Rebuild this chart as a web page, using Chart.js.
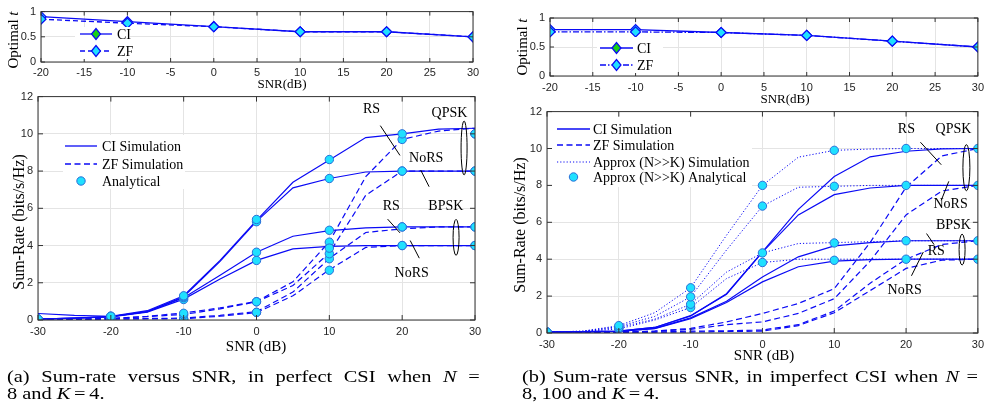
<!DOCTYPE html>
<html lang="en">
<head>
<meta charset="UTF-8" />
<title>Sum-rate versus SNR</title>
<style>
  * { margin: 0; padding: 0; }
  body { width: 989px; height: 419px; background: #fff; position: relative; overflow: hidden; font-family: "Liberation Serif", serif; }
  .box { position: absolute; }
  .cap { position: absolute; font-size: 17px; line-height: 17px; color: #000; transform: scaleX(1.2); transform-origin: 0 0; white-space: nowrap; }
  .cap .l1 { text-align: justify; text-align-last: justify; }
  .cap .eq { margin: 0 3px; }
</style>
</head>
<body>
<div class="box" style="left:0;top:0;width:490px;height:95px"><canvas id="tl"></canvas></div>
<div class="box" style="left:0;top:85px;width:495px;height:270px"><canvas id="bl"></canvas></div>
<div class="box" style="left:500px;top:0;width:489px;height:108px"><canvas id="tr"></canvas></div>
<div class="box" style="left:500px;top:100px;width:489px;height:265px"><canvas id="br"></canvas></div>

<div class="cap" style="left:7px;top:368px;width:394px">
  <div class="l1">(a) Sum-rate versus SNR, in perfect CSI when <i>N</i> =</div>
  <div>8 and <i>K</i><span class="eq">=</span>4.</div>
</div>
<div class="cap" style="left:522px;top:368px;width:380px">
  <div class="l1">(b) Sum-rate versus SNR, in imperfect CSI when <i>N</i> =</div>
  <div>8,&thinsp;100 and <i>K</i><span class="eq">=</span>4.</div>
</div>

<script src="https://cdn.jsdelivr.net/npm/chart.js"></script>
<script>
// ---- data ----
const snrT = [-20, -10, 0, 10, 20, 30];
const snrSim = [-30, -25, -20, -15, -10, -5, 0, 5, 10, 15, 20, 25, 30];
const snrAna = [-30, -20, -10, 0, 10, 20, 30];

// optimal t, (a) perfect CSI
const tCiA = [0.9, 0.8, 0.7, 0.6, 0.6, 0.5];
const tZfA = [0.85, 0.77, 0.7, 0.6, 0.6, 0.5];
// optimal t, (b) imperfect CSI
const tCiB = [0.8, 0.8, 0.75, 0.7, 0.6, 0.5];
const tZfB = [0.76, 0.76, 0.75, 0.7, 0.6, 0.5];

// (a) simulation
const aCiQpskRs = [0.35, 0.25, 0.2, 0.5, 1.3, 3.2, 5.35, 7.4, 8.6, 9.8, 10.0, 10.25, 10.3];
const aCiQpskNoRs = [0.05, 0.1, 0.18, 0.45, 1.25, 3.15, 5.3, 7.1, 7.6, 7.95, 8.0, 8.0, 8.0];
const aCiBpskRs = [0.05, 0.1, 0.18, 0.45, 1.2, 2.4, 3.64, 4.5, 4.8, 4.95, 5.0, 5.0, 5.0];
const aCiBpskNoRs = [0.05, 0.1, 0.17, 0.42, 1.12, 2.2, 3.2, 3.82, 3.95, 4.0, 4.0, 4.0, 4.0];
const aZfQpskRs = [0.02, 0.04, 0.08, 0.2, 0.38, 0.65, 1.0, 2.05, 4.2, 7.7, 9.7, 10.15, 10.3];
const aZfQpskNoRs = [0.02, 0.04, 0.08, 0.18, 0.3, 0.6, 0.98, 1.85, 3.6, 6.7, 8.0, 8.0, 8.0];
const aZfBpskRs = [0.01, 0.02, 0.05, 0.08, 0.1, 0.25, 0.45, 1.5, 3.3, 4.7, 4.9, 5.0, 5.0];
const aZfBpskNoRs = [0.01, 0.02, 0.05, 0.06, 0.07, 0.2, 0.4, 1.3, 2.7, 3.9, 4.0, 4.0, 4.0];
// (a) analytical
const aAnaCiQpskRs = [0.05, 0.2, 1.3, 5.4, 8.62, 10.0, 10.0];
const aAnaCiQpskNoRs = [0.05, 0.2, 1.25, 5.28, 7.6, 8.0, 8.0];
const aAnaCiBpskRs = [0.05, 0.2, 1.2, 3.64, 4.82, 5.0, 5.0];
const aAnaCiBpskNoRs = [0.05, 0.15, 1.1, 3.2, 3.86, 4.0, 4.0];
const aAnaZfQpskRs = [0.02, 0.05, 0.36, 0.98, 4.18, 9.7, 10.0];
const aAnaZfQpskNoRs = [0.02, 0.05, 0.27, 0.98, 3.56, 8.0, 8.0];
const aAnaZfBpskRs = [0.02, 0.02, 0.05, 0.41, 3.29, 5.0, 5.0];
const aAnaZfBpskNoRs = [0.02, 0.02, 0.05, 0.41, 2.67, 4.0, 4.0];

// (b) simulation
const bCiQpskRs = [0.05, 0.07, 0.1, 0.3, 0.94, 2.13, 4.4, 6.7, 8.48, 9.55, 9.85, 9.98, 10.0];
const bCiQpskNoRs = [0.05, 0.07, 0.1, 0.3, 0.92, 2.1, 4.38, 6.4, 7.5, 7.86, 8.0, 8.0, 8.0];
const bCiBpskRs = [0.05, 0.06, 0.08, 0.25, 0.82, 1.72, 3.04, 4.13, 4.72, 4.9, 5.0, 5.0, 5.0];
const bCiBpskNoRs = [0.05, 0.06, 0.08, 0.24, 0.78, 1.65, 2.77, 3.59, 3.9, 3.98, 4.0, 4.0, 4.0];
const bZfQpskRs = [0.02, 0.03, 0.05, 0.1, 0.25, 0.6, 1.06, 1.6, 2.4, 4.9, 7.9, 9.6, 10.0];
const bZfQpskNoRs = [0.02, 0.03, 0.05, 0.1, 0.2, 0.45, 0.6, 1.06, 1.86, 3.9, 6.4, 7.7, 8.0];
const bZfBpskRs = [0.01, 0.02, 0.03, 0.05, 0.1, 0.12, 0.16, 0.45, 1.19, 2.7, 4.0, 4.8, 5.0];
const bZfBpskNoRs = [0.01, 0.02, 0.03, 0.04, 0.05, 0.08, 0.1, 0.4, 1.1, 2.3, 3.5, 3.95, 4.0];
const bApQpskRs = [0.05, 0.1, 0.4, 1.1, 2.45, 5.3, 8.0, 9.53, 9.9, 9.97, 10.0, 10.0, 10.0];
const bApQpskNoRs = [0.05, 0.1, 0.35, 0.9, 1.96, 4.5, 6.88, 7.9, 7.95, 8.0, 8.0, 8.0, 8.0];
const bApBpskRs = [0.05, 0.08, 0.3, 0.75, 1.56, 3.3, 4.34, 4.85, 4.9, 4.95, 5.0, 5.0, 5.0];
const bApBpskNoRs = [0.05, 0.08, 0.22, 0.7, 1.38, 2.95, 3.82, 4.0, 4.0, 4.0, 4.0, 4.0, 4.0];
// (b) analytical (approx)
const bAnaQpskRs = [0.05, 0.4, 2.45, 8.0, 9.9, 10.0, 10.0];
const bAnaQpskNoRs = [0.05, 0.3, 1.96, 6.88, 7.95, 8.0, 8.0];
const bAnaBpskRs = [0.05, 0.25, 1.56, 4.34, 4.88, 5.0, 5.0];
const bAnaBpskNoRs = [0.05, 0.22, 1.38, 3.82, 3.94, 4.0, 4.0];

// annotation anchors in data units [snr, rate]
const annA = {
  texts: [["RS", 15.8, 11.32], ["QPSK", 26.5, 11.11], ["NoRS", 23.3, 8.68], ["RS", 18.5, 6.13], ["BPSK", 26.0, 6.1], ["NoRS", 21.3, 2.52]],
  pointers: [[17.0, 10.44, 19.7, 8.84], [22.55, 8.05, 23.7, 7.16], [18.0, 5.42, 19.7, 4.68], [21.1, 4.27, 22.35, 3.32]],
  ellipses: [[28.5, 9.24, 3, 27], [27.4, 4.44, 3, 18]]
};
const annB = {
  texts: [["RS", 20.05, 11.03], ["QPSK", 26.6, 11.06], ["NoRS", 26.2, 6.96], ["BPSK", 26.6, 5.84], ["RS", 24.2, 4.43], ["NoRS", 19.8, 2.32]],
  pointers: [[22.0, 10.34, 24.9, 9.12], [25.95, 8.22, 24.9, 7.19], [22.85, 5.39, 23.9, 4.79], [22.4, 4.39, 20.75, 3.1]],
  ellipses: [[28.4, 8.96, 3.5, 23], [27.8, 4.52, 3, 15.5]]
};

// ---- styles ----
const BLUE = "#0a0af5";
const CYAN = "#1fe0ff";
const EDGE = "#2a6fd8";
const GREEN = "#18d018";
const SERIF = '"Liberation Serif", "Times New Roman", serif';
const SANS = '"Liberation Sans", Arial, sans-serif';
const DASH = [6, 3.5];
const DOT = [1.2, 2];
const DASHDOT = [6, 2, 1.5, 2];

const pts = (xs, ys) => xs.map((x, i) => ({ x: x, y: ys[i] }));

function simLine(label, ys, dash, width) {
  return {
    label: label, data: pts(snrSim, ys), borderColor: BLUE, borderWidth: width || 1.2,
    borderDash: dash || [], pointRadius: 0, tension: 0, fill: false, order: 2
  };
}
function anaDots(label, ys) {
  return {
    label: label, data: pts(snrAna, ys), showLine: false, pointRadius: 4.2,
    pointBackgroundColor: CYAN, pointBorderColor: EDGE, pointBorderWidth: 1, order: 0
  };
}
function tLine(label, ys, dash, order) {
  return {
    label: label, data: pts(snrT, ys), borderColor: BLUE, borderWidth: 1.3, borderDash: dash,
    pointStyle: "rectRot", pointRadius: 5, pointBackgroundColor: CYAN, pointBorderColor: BLUE,
    pointBorderWidth: 1.2, tension: 0, fill: false, order: order
  };
}

// draws box, inward ticks, titles, legend and annotations
const extras = {
  id: "extras",
  afterDatasetsDraw(chart, args, o) {
    const { ctx, chartArea: a, scales: { x, y } } = chart;
    ctx.save();
    ctx.translate(-o.offX, -o.offY);
    const L = a.left + o.offX, R = a.right + o.offX, T = a.top + o.offY, B = a.bottom + o.offY;
    const px = (v) => x.getPixelForValue(v) + o.offX;
    const py = (v) => y.getPixelForValue(v) + o.offY;

    // axes box with inward ticks
    ctx.strokeStyle = "#333";
    ctx.lineWidth = 1;
    ctx.strokeRect(L, T, R - L, B - T);
    ctx.beginPath();
    x.ticks.forEach((t) => {
      const p = px(t.value);
      ctx.moveTo(p, B); ctx.lineTo(p, B - o.tick);
      ctx.moveTo(p, T); ctx.lineTo(p, T + o.tick);
    });
    y.ticks.forEach((t) => {
      const p = py(t.value);
      ctx.moveTo(L, p); ctx.lineTo(L + o.tick, p);
      ctx.moveTo(R, p); ctx.lineTo(R - o.tick, p);
    });
    ctx.stroke();

    ctx.fillStyle = "#000";
    ctx.textBaseline = "middle";
    ctx.textAlign = "center";

    // annotations
    if (o.ann) {
      ctx.font = "14px " + SERIF;
      o.ann.texts.forEach(([s, sx, sy]) => ctx.fillText(s, px(sx), py(sy)));
      ctx.strokeStyle = "#000";
      ctx.lineWidth = 1;
      ctx.beginPath();
      o.ann.pointers.forEach(([x0, y0, x1, y1]) => {
        ctx.moveTo(px(x0), py(y0)); ctx.lineTo(px(x1), py(y1));
      });
      ctx.stroke();
      o.ann.ellipses.forEach(([ex, ey, rx, ry]) => {
        ctx.beginPath();
        ctx.ellipse(px(ex), py(ey), rx, ry, 0, 0, Math.PI * 2);
        ctx.stroke();
      });
    }

    // legend
    const lg = o.legend;
    ctx.fillStyle = "#fff";
    ctx.fillRect(lg.box[0], lg.box[1], lg.box[2], lg.box[3]);
    ctx.font = lg.font + "px " + SERIF;
    ctx.textAlign = "left";
    lg.items.forEach((it, i) => {
      const yy = lg.rows[i];
      if (it.dash) {
        ctx.strokeStyle = BLUE;
        ctx.lineWidth = it.width || 1.3;
        ctx.setLineDash(it.dash);
        ctx.beginPath();
        ctx.moveTo(lg.x0, yy); ctx.lineTo(lg.x1, yy);
        ctx.stroke();
        ctx.setLineDash([]);
      }
      const mx = (lg.x0 + lg.x1) / 2;
      if (it.marker === "circle") {
        ctx.beginPath();
        ctx.arc(mx, yy, 4.2, 0, Math.PI * 2);
        ctx.fillStyle = CYAN; ctx.fill();
        ctx.strokeStyle = EDGE; ctx.lineWidth = 1; ctx.stroke();
      } else if (it.marker) {
        ctx.beginPath();
        ctx.moveTo(mx - 4.5, yy); ctx.lineTo(mx, yy - 5.5);
        ctx.lineTo(mx + 4.5, yy); ctx.lineTo(mx, yy + 5.5);
        ctx.closePath();
        ctx.fillStyle = it.marker; ctx.fill();
        ctx.strokeStyle = BLUE; ctx.lineWidth = 1.2; ctx.stroke();
      }
      ctx.fillStyle = "#000";
      ctx.fillText(it.label, lg.tx, yy + 1);
    });

    // axis titles
    o.titles.forEach((tt) => {
      ctx.save();
      ctx.translate(tt.x, tt.y);
      if (tt.rot) ctx.rotate(-Math.PI / 2);
      ctx.textAlign = "left";
      let w = 0;
      tt.parts.forEach((p) => { ctx.font = (p[1] ? "italic " : "") + tt.size + "px " + SERIF; w += ctx.measureText(p[0]).width; });
      let cx = -w / 2;
      tt.parts.forEach((p) => {
        ctx.font = (p[1] ? "italic " : "") + tt.size + "px " + SERIF;
        ctx.fillText(p[0], cx, 0);
        cx += ctx.measureText(p[0]).width;
      });
      ctx.restore();
    });
    ctx.restore();
  }
};

function makeChart(id, spec) {
  const c = spec.canvas, a = spec.area;
  const padL = a.l - c.left, padT = a.t - c.top, padR = c.left + c.w - a.r, padB = c.top + c.h - a.b;
  return new Chart(document.getElementById(id), {
    type: "line",
    data: { datasets: spec.datasets },
    options: {
      responsive: true,
      maintainAspectRatio: false,
      animation: false,
      layout: { padding: { left: 0, top: padT, right: padR, bottom: 0 } },
      plugins: { legend: { display: false }, tooltip: { enabled: false }, extras: spec.extras },
      scales: {
        x: {
          type: "linear", min: spec.x[0], max: spec.x[1],
          afterFit: (s) => { s.height = padB; },
          ticks: { stepSize: spec.x[2], padding: spec.tickPadX, color: "#262626", font: { family: SANS, size: 11 }, maxRotation: 0,
            callback: (v) => String(v) },
          grid: { color: "#e4e4e4", drawTicks: false },
          border: { display: false }
        },
        y: {
          min: spec.y[0], max: spec.y[1],
          afterFit: (s) => { s.width = padL; },
          ticks: { stepSize: spec.y[2], padding: 5, color: "#262626", font: { family: SANS, size: 11 },
            callback: (v) => String(v) },
          grid: { color: "#e4e4e4", drawTicks: false },
          border: { display: false }
        }
      }
    },
    plugins: [extras]
  });
}

// ---- (a) optimal t ----
makeChart("tl", {
  canvas: { left: 0, top: 0, w: 490, h: 95 },
  area: { l: 41, t: 10, r: 473, b: 62 },
  x: [-20, 30, 5], y: [0, 1, 0.5], tickPadX: 4,
  datasets: [tLine("CI", tCiA, [], 1), tLine("ZF", tZfA, [5, 3], 0)],
  extras: {
    offX: 0, offY: 0, tick: 4,
    legend: { box: [75, 27, 55, 32], x0: 80, x1: 112, tx: 117, rows: [34, 51], font: 14,
      items: [{ label: "CI", dash: [], marker: GREEN }, { label: "ZF", dash: [5, 3], marker: CYAN }] },
    titles: [
      { parts: [["Optimal ", false], ["t", true]], x: 14, y: 40, rot: true, size: 15 },
      { parts: [["SNR(dB)", false]], x: 282, y: 85, size: 13 }
    ]
  }
});

// ---- (a) sum-rate ----
makeChart("bl", {
  canvas: { left: 0, top: 85, w: 495, h: 270 },
  area: { l: 38, t: 95, r: 475, b: 320 },
  x: [-30, 30, 10], y: [0, 12, 2], tickPadX: 5,
  datasets: [
    simLine("CI QPSK RS", aCiQpskRs), simLine("CI QPSK NoRS", aCiQpskNoRs),
    simLine("CI BPSK RS", aCiBpskRs), simLine("CI BPSK NoRS", aCiBpskNoRs),
    simLine("ZF QPSK RS", aZfQpskRs, DASH), simLine("ZF QPSK NoRS", aZfQpskNoRs, DASH),
    simLine("ZF BPSK RS", aZfBpskRs, DASH), simLine("ZF BPSK NoRS", aZfBpskNoRs, DASH),
    anaDots("Analytical", aAnaCiQpskRs), anaDots("Analytical", aAnaCiQpskNoRs),
    anaDots("Analytical", aAnaCiBpskRs), anaDots("Analytical", aAnaCiBpskNoRs),
    anaDots("Analytical", aAnaZfQpskRs), anaDots("Analytical", aAnaZfQpskNoRs),
    anaDots("Analytical", aAnaZfBpskRs), anaDots("Analytical", aAnaZfBpskNoRs)
  ],
  extras: {
    offX: 0, offY: 85, tick: 5, ann: annA,
    legend: { box: [63, 135, 122, 54], x0: 65, x1: 97, tx: 102, rows: [146, 164, 181], font: 14,
      items: [{ label: "CI Simulation", dash: [] }, { label: "ZF Simulation", dash: DASH }, { label: "Analytical", marker: "circle" }] },
    titles: [
      { parts: [["Sum-Rate (bits/s/Hz)", false]], x: 20, y: 222, rot: true, size: 16 },
      { parts: [["SNR (dB)", false]], x: 256, y: 347, size: 15 }
    ]
  }
});

// ---- (b) optimal t ----
makeChart("tr", {
  canvas: { left: 500, top: 0, w: 489, h: 108 },
  area: { l: 550, t: 18, r: 980, b: 76 },
  x: [-20, 30, 5], y: [0, 1, 0.5], tickPadX: 5,
  datasets: [tLine("CI", tCiB, [], 1), tLine("ZF", tZfB, DASHDOT, 0)],
  extras: {
    offX: 500, offY: 0, tick: 4,
    legend: { box: [597, 37, 66, 36], x0: 600, x1: 633, tx: 637, rows: [48, 65], font: 14,
      items: [{ label: "CI", dash: [], marker: GREEN }, { label: "ZF", dash: DASHDOT, marker: CYAN }] },
    titles: [
      { parts: [["Optimal ", false], ["t", true]], x: 523, y: 47, rot: true, size: 15 },
      { parts: [["SNR(dB)", false]], x: 785, y: 100, size: 13 }
    ]
  }
});

// ---- (b) sum-rate ----
makeChart("br", {
  canvas: { left: 500, top: 100, w: 489, h: 265 },
  area: { l: 547, t: 111, r: 981, b: 333 },
  x: [-30, 30, 10], y: [0, 12, 2], tickPadX: 5,
  datasets: [
    simLine("CI QPSK RS", bCiQpskRs), simLine("CI QPSK NoRS", bCiQpskNoRs),
    simLine("CI BPSK RS", bCiBpskRs), simLine("CI BPSK NoRS", bCiBpskNoRs),
    simLine("ZF QPSK RS", bZfQpskRs, DASH), simLine("ZF QPSK NoRS", bZfQpskNoRs, DASH),
    simLine("ZF BPSK RS", bZfBpskRs, DASH), simLine("ZF BPSK NoRS", bZfBpskNoRs, DASH),
    simLine("Approx QPSK RS", bApQpskRs, DOT, 1), simLine("Approx QPSK NoRS", bApQpskNoRs, DOT, 1),
    simLine("Approx BPSK RS", bApBpskRs, DOT, 1), simLine("Approx BPSK NoRS", bApBpskNoRs, DOT, 1),
    anaDots("Approx (N>>K) Analytical", bAnaQpskRs), anaDots("Approx (N>>K) Analytical", bAnaQpskNoRs),
    anaDots("Approx (N>>K) Analytical", bAnaBpskRs), anaDots("Approx (N>>K) Analytical", bAnaBpskNoRs)
  ],
  extras: {
    offX: 500, offY: 100, tick: 5, ann: annB,
    legend: { box: [552, 117, 200, 70], x0: 557, x1: 590, tx: 593, rows: [129, 145, 162, 177], font: 14,
      items: [{ label: "CI Simulation", dash: [] }, { label: "ZF Simulation", dash: DASH },
        { label: "Approx (N>>K) Simulation", dash: DOT, width: 1 }, { label: "Approx (N>>K) Analytical", marker: "circle" }] },
    titles: [
      { parts: [["Sum-Rate (bits/s/Hz)", false]], x: 521, y: 225, rot: true, size: 16 },
      { parts: [["SNR (dB)", false]], x: 764, y: 356, size: 15 }
    ]
  }
});
</script>
</body>
</html>
